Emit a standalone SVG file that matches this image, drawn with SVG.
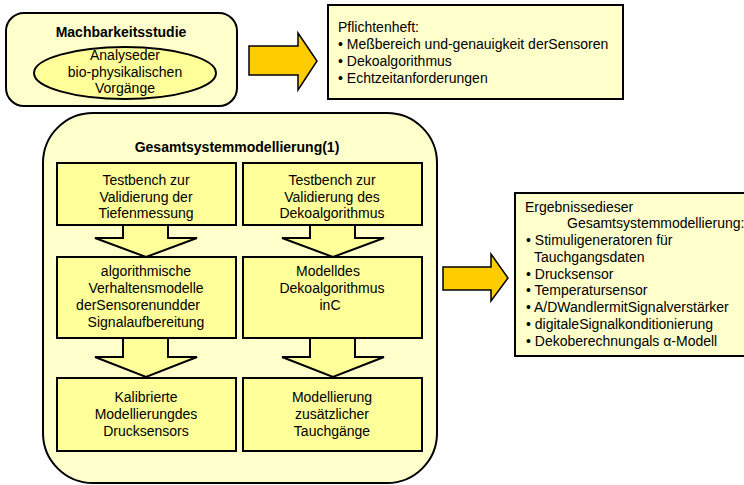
<svg xmlns="http://www.w3.org/2000/svg" width="744" height="485" viewBox="0 0 744 485">
  <style>
    .pale { fill: #FFFFCC; stroke: #000; stroke-width: 2; }
    .box { fill: #FFFF99; stroke: #000; stroke-width: 2; }
    .fat { fill: #FFCC00; stroke: #000; stroke-width: 1.5; stroke-linejoin: miter; }
    .down { fill: #FFFF99; stroke: #000; stroke-width: 2; stroke-linejoin: miter; }
    text { font-family: "Liberation Sans", Arial, sans-serif; font-size: 14px; fill: #000; }
    .c { text-anchor: middle; }
    .b { font-weight: bold; font-size: 14px; }
  </style>

  <rect width="744" height="485" fill="#FFFFFF"/>

  <!-- feasibility study -->
  <g id="machbarkeitsstudie">
    <rect class="pale" x="6" y="13" width="231" height="93" rx="18" ry="18"/>
    <text class="c b" x="121" y="37">Machbarkeitsstudie</text>
    <ellipse class="box" cx="125" cy="73" rx="91" ry="26"/>
    <text class="c" x="125" y="60">Analyseder</text>
    <text class="c" x="125" y="77">bio-physikalischen</text>
    <text class="c" x="125" y="93">Vorgänge</text>
  </g>

  <!-- requirements spec -->
  <g id="pflichtenheft">
    <rect class="pale" x="328" y="5" width="295" height="94"/>
    <text x="338" y="32">Pflichtenheft:</text>
    <text x="338" y="49">• Meßbereich und-genauigkeit derSensoren</text>
    <text x="338" y="66">• Dekoalgorithmus</text>
    <text x="338" y="83">• Echtzeitanforderungen</text>
  </g>

  <!-- overall system model container -->
  <g id="gesamtsystemmodellierung">
    <rect class="pale" x="43" y="113" width="394" height="370" rx="50" ry="50"/>
    <text class="c b" x="237" y="152">Gesamtsystemmodellierung(1)</text>
  </g>

  <!-- connectors -->
  <g id="connectors">
    <polygon class="fat" points="249,46 298,46 298,33 317,61 298,90 298,75 249,75"/>
    <polygon class="fat" points="443,267 491,267 491,254 508,278 491,301 491,290 443,290"/>
    <polygon class="down" points="123,224 168,224 168,238 197,238 146,257 95,238 123,238"/>
    <polygon class="down" points="310,224 355,224 355,238 384,238 333,257 282,238 310,238"/>
    <polygon class="down" points="123,337 168,337 168,357 197,357 146,377 95,357 123,357"/>
    <polygon class="down" points="310,337 355,337 355,357 384,357 333,377 282,357 310,357"/>
  </g>

  <g id="testbench-tiefe">
    <rect class="box" x="57" y="163" width="179" height="62"/>
    <text class="c" x="146" y="185">Testbench zur</text>
    <text class="c" x="146" y="202">Validierung der</text>
    <text class="c" x="146" y="218">Tiefenmessung</text>
  </g>

  <g id="testbench-deko">
    <rect class="box" x="243" y="163" width="179" height="62"/>
    <text class="c" x="332" y="185">Testbench zur</text>
    <text class="c" x="332" y="202">Validierung des</text>
    <text class="c" x="332" y="218">Dekoalgorithmus</text>
  </g>

  <g id="verhaltensmodelle">
    <rect class="box" x="57" y="257" width="179" height="81"/>
    <text class="c" x="146" y="276">algorithmische</text>
    <text class="c" x="146" y="293">Verhaltensmodelle</text>
    <text class="c" x="138" y="310">derSensorenundder</text>
    <text class="c" x="146" y="327">Signalaufbereitung</text>
  </g>

  <g id="modell-deko">
    <rect class="box" x="243" y="257" width="179" height="81"/>
    <text class="c" x="328" y="276">Modelldes</text>
    <text class="c" x="332" y="293">Dekoalgorithmus</text>
    <text class="c" x="330" y="310">inC</text>
  </g>

  <g id="kalibrierte-modellierung">
    <rect class="box" x="57" y="378" width="179" height="73"/>
    <text class="c" x="146" y="402">Kalibrierte</text>
    <text class="c" x="146" y="419">Modellierungdes</text>
    <text class="c" x="146" y="436">Drucksensors</text>
  </g>

  <g id="tauchgaenge">
    <rect class="box" x="243" y="378" width="179" height="73"/>
    <text class="c" x="332" y="402">Modellierung</text>
    <text class="c" x="332" y="419">zusätzlicher</text>
    <text class="c" x="332" y="436">Tauchgänge</text>
  </g>

  <!-- results -->
  <g id="ergebnisse">
    <rect class="pale" x="515" y="193" width="240" height="163"/>
    <text x="525" y="212">Ergebnissedieser</text>
    <text x="567" y="228">Gesamtsystemmodellierung:</text>
    <text x="526" y="245">• Stimuligeneratoren für</text>
    <text x="534" y="262">Tauchgangsdaten</text>
    <text x="526" y="279">• Drucksensor</text>
    <text x="526" y="295">• Temperatursensor</text>
    <text x="526" y="312">• A/DWandlermitSignalverstärker</text>
    <text x="526" y="329">• digitaleSignalkonditionierung</text>
    <text x="526" y="346">• Dekoberechnungals  α-Modell</text>
  </g>
</svg>
